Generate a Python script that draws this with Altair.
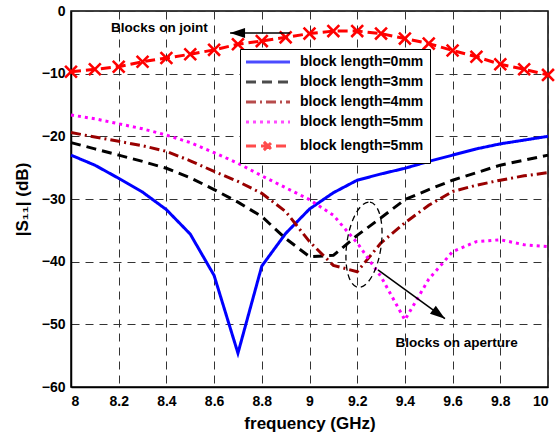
import altair as alt
import pandas as pd

# ---------------- data ----------------
freq = [8.0, 8.1, 8.2, 8.3, 8.4, 8.5, 8.6, 8.7, 8.8, 8.9, 9.0,
        9.1, 9.2, 9.3, 9.4, 9.5, 9.6, 9.7, 9.8, 9.9, 10.0]

s_0mm = [-23.0, -24.6, -26.7, -28.9, -31.7, -35.6, -42.2, -54.6, -40.7, -35.5, -31.6,
         -29.0, -27.0, -26.0, -25.1, -24.0, -23.0, -22.0, -21.2, -20.6, -20.0]
s_3mm = [-21.0, -22.0, -23.0, -24.0, -25.1, -26.6, -28.5, -30.5, -32.8, -36.3, -39.2,
         -39.0, -35.8, -33.0, -30.1, -28.5, -27.0, -25.8, -24.6, -23.8, -23.0]
s_4mm = [-19.4, -20.1, -20.8, -21.5, -22.4, -23.9, -25.6, -27.2, -29.1, -32.0, -36.8,
         -40.6, -41.6, -37.0, -33.8, -31.0, -28.8, -27.8, -27.0, -26.3, -25.8]
s_5mm_ap = [-16.6, -17.2, -18.0, -18.8, -19.8, -21.0, -22.6, -24.3, -26.3, -28.2, -30.1,
            -32.6, -37.0, -42.4, -49.3, -42.8, -38.4, -36.8, -36.5, -37.3, -37.6]
s_5mm_jt = [-9.7, -9.3, -8.9, -8.1, -7.5, -6.9, -6.2, -5.3, -4.8, -4.2, -3.6,
            -3.2, -3.2, -3.6, -4.4, -5.2, -6.3, -7.3, -8.5, -9.3, -10.2]

series_keys = ["a", "b", "c", "d", "e"]
series_labels = ["block length=0mm", "block length=3mm", "block length=4mm",
                 "block length=5mm", "block length=5mm"]
series_values = [s_0mm, s_3mm, s_4mm, s_5mm_ap, s_5mm_jt]
series_colors = ["#0000ff", "#000000", "#990000", "#ff00ff", "#ff0000"]
series_dashes = [[1, 0], [10, 6], [10, 4, 2, 4], [3, 4], [10, 5]]
legend_shapes = ["M-4,0H4", "M-4,0H4", "M-4,0H4", "M-4,0H4",
                 "M-4,0H4M-0.75,-0.75L0.75,0.75M-0.75,0.75L0.75,-0.75"]

x_ticks = [8.0, 8.2, 8.4, 8.6, 8.8, 9.0, 9.2, 9.4, 9.6, 9.8, 10.0]
y_ticks = [-60, -50, -40, -30, -20, -10, 0]

ann_text = ["Blocks on joint", "Blocks on aperture"]
ann_x = [8.371, 9.617]
ann_y = [-2.7, -53.0]

arrow_x = [8.918, 9.287]
arrow_y = [-3.5, -41.3]
arrow_x2 = [8.667, 9.568]
arrow_y2 = [-3.5, -49.1]
arrow_angle = [180, 36.2]

ell_x = [9.2285]
ell_y = [-37.3]

# ---------------- tables ----------------
rows = []
for k, vals in zip(series_keys, series_values):
    for f, v in zip(freq, vals):
        rows.append({"f": f, "s": v, "series": k})
df = pd.DataFrame(rows)
df_jt = pd.DataFrame({"f": freq, "s": s_5mm_jt})
df_leg = pd.DataFrame({"series": series_keys, "f": [7.0] * 5, "s": [-30.0] * 5})
df_txt = pd.DataFrame({"t": ann_text, "x": ann_x, "y": ann_y})
df_arr = pd.DataFrame({"x": arrow_x, "y": arrow_y, "x2": arrow_x2, "y2": arrow_y2,
                       "a": arrow_angle})
df_ell = pd.DataFrame({"x": ell_x, "y": ell_y})

label_map = "{" + ",".join(f"'{k}':'{l}'" for k, l in zip(series_keys, series_labels)) + "}"

FONT = "Liberation Sans"

legend = alt.Legend(
    title=None, orient="none", legendX=169, legendY=38,
    labelExpr=f"{label_map}[datum.value]",
    labelFont=FONT, labelFontSize=14, labelFontWeight="bold", labelColor="black",
    labelOffset=25, symbolOffset=15, symbolSize=121, symbolStrokeWidth=3,
    strokeColor="black", fillColor="white", padding=6, rowPadding=6,
    labelLimit=300,
)

xs = alt.Scale(domain=[8, 10], nice=False, zero=False)
ys = alt.Scale(domain=[-60, 0], nice=False, zero=False)

x_axis = alt.Axis(values=x_ticks, format="~g", title="frequency (GHz)",
                  titleX=238.5, titleY=41, titleAlign="center", titleBaseline="alphabetic",
                  labelPadding=7)
y_axis = alt.Axis(values=y_ticks, title="|S₁₁| (dB)",
                  titleX=-49, titleY=188, titleAngle=270, titleAlign="center",
                  titleBaseline="middle", labelPadding=6)

color_enc = alt.Color("series:N", scale=alt.Scale(domain=series_keys, range=series_colors),
                      legend=legend)
dash_enc = alt.StrokeDash("series:N", scale=alt.Scale(domain=series_keys, range=series_dashes),
                          legend=legend)
shape_enc = alt.Shape("series:N", scale=alt.Scale(domain=series_keys, range=legend_shapes),
                      legend=legend)

lines = alt.Chart(df).mark_line(strokeWidth=3, strokeCap="butt").encode(
    x=alt.X("f:Q", scale=xs, axis=x_axis),
    y=alt.Y("s:Q", scale=ys, axis=y_axis),
    color=color_enc,
    strokeDash=dash_enc,
    detail="series:N",
)

legend_layer = alt.Chart(df_leg).mark_point(clip=True, filled=False).encode(
    x=alt.X("f:Q", scale=xs),
    y=alt.Y("s:Q", scale=ys),
    color=color_enc,
    strokeDash=dash_enc,
    shape=shape_enc,
)

markers = alt.Chart(df_jt).mark_point(
    shape="M-1,-1L1,1M-1,1L1,-1", size=140, strokeWidth=2.6, color="#ff0000",
    filled=False, opacity=1,
).encode(x=alt.X("f:Q", scale=xs), y=alt.Y("s:Q", scale=ys))

texts = alt.Chart(df_txt).mark_text(
    font=FONT, fontSize=13.5, fontWeight="bold", color="black", align="center",
    baseline="middle",
).encode(x=alt.X("x:Q", scale=xs), y=alt.Y("y:Q", scale=ys), text="t:N")

arrows = alt.Chart(df_arr).mark_rule(color="black", strokeWidth=1.5).encode(
    x=alt.X("x:Q", scale=xs), y=alt.Y("y:Q", scale=ys), x2="x2:Q", y2="y2:Q",
)
heads = alt.Chart(df_arr).mark_point(
    shape="M0,0L-1,-0.33L-1,0.33Z", size=900, filled=True, color="black", opacity=1,
).encode(x=alt.X("x2:Q", scale=xs), y=alt.Y("y2:Q", scale=ys),
         angle=alt.Angle("a:Q", scale=None))

ellipse = alt.Chart(df_ell).mark_point(
    shape="M0,-1A0.4,1 0 1,1 0,1A0.4,1 0 1,1 0,-1Z", size=7396, filled=False,
    color="black", strokeWidth=1.3, strokeDash=[6, 4], angle=8, opacity=1,
).encode(x=alt.X("x:Q", scale=xs), y=alt.Y("y:Q", scale=ys))

chart = alt.layer(lines, legend_layer, markers, ellipse, arrows, heads, texts).properties(
    width=477, height=376,
    autosize=alt.AutoSizeParams(type="none"),
    padding={"left": 71, "top": 11, "right": 8, "bottom": 46},
    background="white",
).configure_view(
    stroke="black", strokeWidth=1.5,
).configure_axis(
    labelFont=FONT, labelFontSize=14, labelFontWeight="bold", labelColor="black",
    titleFont=FONT, titleFontSize=17, titleFontWeight="bold", titleColor="black",
    ticks=False, domainColor="black", domainWidth=1.5,
    grid=True, gridColor="#333333", gridDash=[8, 6], gridWidth=1, gridOpacity=1,
)

chart.save("out.html", embed_options={"renderer": "svg", "actions": False})
